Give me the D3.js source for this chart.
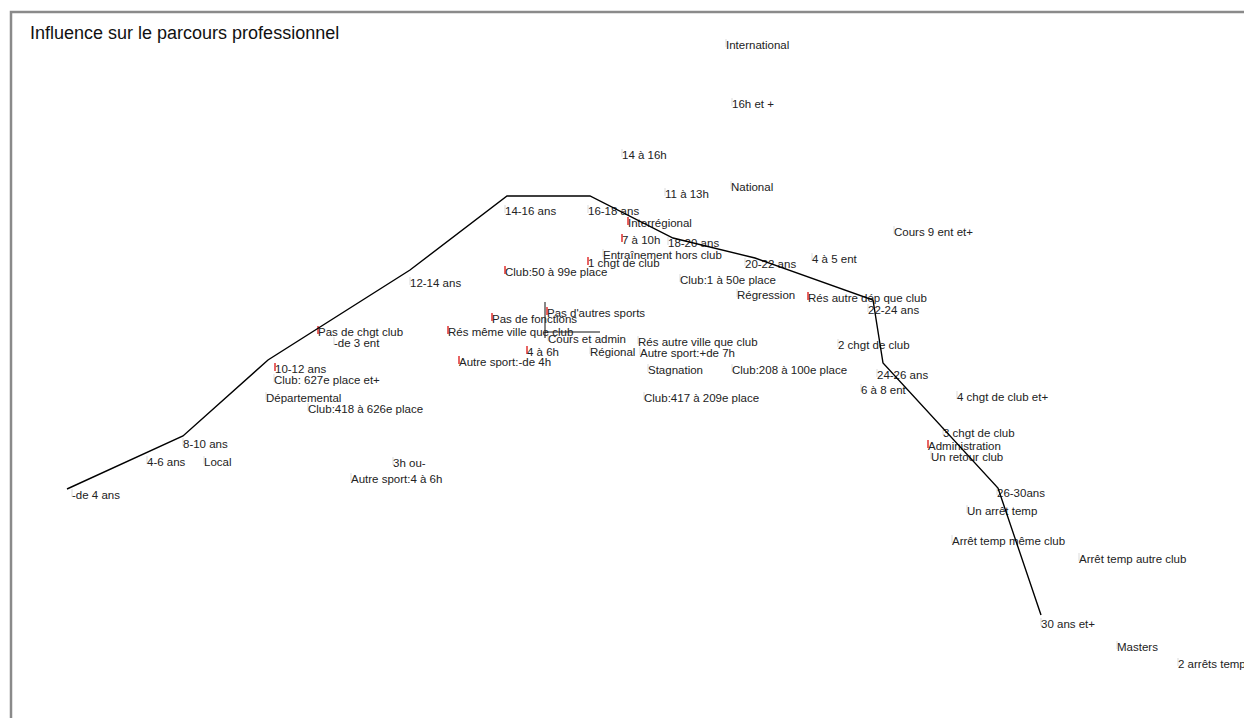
<!DOCTYPE html>
<html lang="fr">
<head>
  <meta charset="UTF-8">
  <title>Influence sur le parcours professionnel</title>
  <style>
    body { margin: 0; background: #fff; font-family: "Liberation Sans", Arial, sans-serif; }
    svg { display: block; }
  </style>
  <script src="https://d3js.org/d3.v7.min.js"></script>
</head>
<body>
  <div id="chart"></div>

  <script>
    // modalities of the analysis, coordinates on factor axes 1 and 2
    const labels = [
      "International", "16h et +", "14 à 16h", "National", "11 à 13h",
      "14-16 ans", "16-18 ans", "Interrégional", "7 à 10h", "18-20 ans",
      "Entraînement hors club", "1 chgt de club", "Club:50 à 99e place", "20-22 ans", "4 à 5 ent",
      "Cours 9 ent et+", "Club:1 à 50e place", "Régression", "Rés autre dép que club", "22-24 ans",
      "12-14 ans", "Pas d'autres sports", "Pas de fonctions", "Rés même ville que club", "Pas de chgt club",
      "-de 3 ent", "Cours et admin", "Rés autre ville que club", "4 à 6h", "Régional",
      "Autre sport:+de 7h", "Autre sport:-de 4h", "2 chgt de club", "10-12 ans", "Club: 627e place et+",
      "Stagnation", "Club:208 à 100e place", "24-26 ans", "6 à 8 ent", "Départemental",
      "Club:417 à 209e place", "Club:418 à 626e place", "4 chgt de club et+", "3 chgt de club", "Administration",
      "Un retour club", "8-10 ans", "4-6 ans", "Local", "3h ou-",
      "Autre sport:4 à 6h", "-de 4 ans", "26-30ans", "Un arrêt temp", "Arrêt temp même club",
      "Arrêt temp autre club", "30 ans et+", "Masters", "2 arrêts temp"
    ];
    const axis1 = [
      0.905, 0.935, 0.385, 0.93, 0.60,
      -0.20, 0.215, 0.415, 0.385, 0.615,
      0.29, 0.215, -0.20, 1.00, 1.335,
      1.745, 0.675, 0.96, 1.315, 1.615,
      -0.675, 0.01, -0.265, -0.485, -1.135,
      -1.055, 0.015, 0.465, -0.09, 0.225,
      0.475, -0.43, 1.465, -1.35, -1.355,
      0.515, 0.935, 1.66, 1.58, -1.395,
      0.495, -1.185, 2.06, 1.99, 1.915,
      1.93, -1.81, -1.99, -1.705, -0.76,
      -0.97, -2.365, 2.26, 2.11, 2.035,
      2.67, 2.48, 2.86, 3.165
    ];
    const axis2 = [
      1.435, 1.14, 0.885, 0.725, 0.69,
      0.605, 0.605, 0.545, 0.46, 0.445,
      0.385, 0.345, 0.30, 0.34, 0.365,
      0.50, 0.26, 0.185, 0.17, 0.11,
      0.245, 0.095, 0.065, 0.00, 0.00,
      -0.055, -0.035, -0.05, -0.10, -0.10,
      -0.105, -0.15, -0.065, -0.185, -0.24,
      -0.19, -0.19, -0.215, -0.29, -0.33,
      -0.33, -0.385, -0.325, -0.505, -0.57,
      -0.625, -0.56, -0.65, -0.65, -0.655,
      -0.735, -0.815, -0.805, -0.895, -1.045,
      -1.135, -1.46, -1.575, -1.66
    ];

    // modalities flagged in red on the map
    const flagged = [
      "Interrégional", "7 à 10h", "1 chgt de club", "Club:50 à 99e place", "Pas de fonctions",
      "Rés même ville que club", "4 à 6h", "Autre sport:-de 4h", "Pas de chgt club", "10-12 ans",
      "Rés autre dép que club", "Administration", "Pas d'autres sports"
    ];

    // age trajectory drawn over the map
    const ageCurve1 = [-2.39, -1.81, -1.385, -0.675, -0.19, 0.225, 0.64, 1.05, 1.64, 1.69, 2.265, 2.48];
    const ageCurve2 = [-0.785, -0.52, -0.14, 0.31, 0.68, 0.68, 0.47, 0.37, 0.16, -0.155, -0.78, -1.415];

    const title = "Influence sur le parcours professionnel";

    const width = 1244, height = 718;

    const x = d3.scaleLinear().domain([0, 1]).range([545, 745]);
    const y = d3.scaleLinear().domain([0, 1]).range([332, 132]);

    const points = labels.map((name, i) => ({ name, a1: axis1[i], a2: axis2[i] }));
    const curve = ageCurve1.map((a1, i) => ({ a1, a2: ageCurve2[i] }));

    const svg = d3.create("svg")
        .attr("width", width)
        .attr("height", height)
        .attr("viewBox", [0, 0, width, height]);

    // frame (top and left edges visible)
    svg.append("path")
        .attr("d", `M11,${height} V12 H${width}`)
        .attr("fill", "none")
        .attr("stroke", "#8a8a8a")
        .attr("stroke-width", 2.5);

    svg.append("text")
        .attr("x", 30)
        .attr("y", 33)
        .attr("dy", "0.35em")
        .style("font", "18px 'Liberation Sans', Arial, sans-serif")
        .attr("fill", "#111")
        .text(title);

    // origin cross
    const origin = svg.append("g").attr("stroke", "#111").attr("stroke-width", 1);
    origin.append("line")
        .attr("x1", x(0)).attr("x2", x(0))
        .attr("y1", y(0.15)).attr("y2", y(-0.03));
    origin.append("line")
        .attr("x1", x(0)).attr("x2", x(0.275))
        .attr("y1", y(0)).attr("y2", y(0));

    // point markers
    svg.append("g")
      .selectAll("line")
      .data(points)
      .join("line")
        .attr("x1", d => x(d.a1))
        .attr("x2", d => x(d.a1))
        .attr("y1", d => y(d.a2) - 6)
        .attr("y2", d => y(d.a2) + 2)
        .attr("stroke", d => flagged.includes(d.name) ? "#e03030" : "#c4c4c4")
        .attr("stroke-width", d => flagged.includes(d.name) ? 1.5 : 0.6);

    // labels
    svg.append("g")
        .style("font", "11.5px 'Liberation Sans', Arial, sans-serif")
        .attr("fill", "#222")
      .selectAll("text")
      .data(points)
      .join("text")
        .attr("x", d => x(d.a1))
        .attr("y", d => y(d.a2))
        .attr("dy", "0.35em")
        .text(d => d.name);

    // age trajectory
    const line = d3.line()
        .x(d => x(d.a1))
        .y(d => y(d.a2));

    svg.append("path")
        .datum(curve)
        .attr("d", line)
        .attr("fill", "none")
        .attr("stroke", "#000")
        .attr("stroke-width", 1.4);

    document.getElementById("chart").appendChild(svg.node());
  </script>
</body>
</html>
